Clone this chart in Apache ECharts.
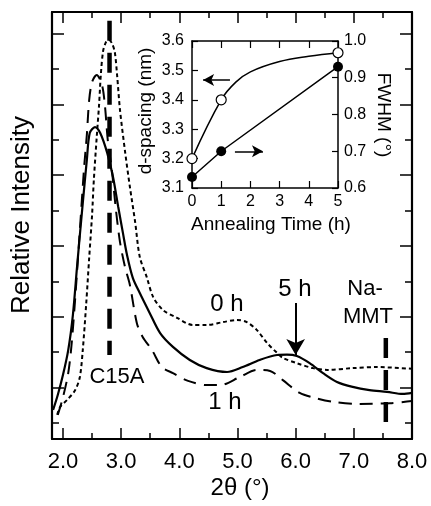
<!DOCTYPE html>
<html><head><meta charset="utf-8">
<script src="https://cdn.jsdelivr.net/npm/echarts@6/dist/echarts.min.js"></script>
<style>html,body{margin:0;padding:0;background:#fff}#c{width:431px;height:506px}</style>
</head><body><div id="c"></div>
<script>
// ---------- main XRD data (2θ in degrees, relative intensity in arbitrary units) ----------
const x0h = [1.90,1.95,2.07,2.21,2.29,2.34,2.40,2.45,2.50,2.53,2.58,2.62,2.65,2.69,2.74,2.79,2.84,2.89,2.93,2.98,3.07,3.15,3.24,3.32,3.44,3.55,3.72,3.96,4.23,4.47,4.75,4.99,5.16,5.33,5.51,5.68,5.78,6.02,6.30,6.54,6.98,7.40,8.0];
const y0h = [0.23,0.45,0.65,0.93,1.30,2.06,3.39,4.66,5.88,6.86,8.08,8.98,9.83,10.51,10.76,10.82,10.73,10.48,9.83,8.84,7.63,6.67,5.68,4.69,4.12,3.56,3.19,2.97,2.77,2.77,2.85,2.91,2.85,2.63,2.26,1.98,1.84,1.69,1.55,1.50,1.55,1.58,1.53];
const x1h = [1.91,2.0,2.09,2.15,2.22,2.29,2.36,2.41,2.45,2.50,2.58,2.67,2.72,2.77,2.84,2.91,2.98,3.07,3.15,3.27,3.37,3.53,3.70,3.89,4.15,4.47,4.70,5.04,5.33,5.56,5.78,6.07,6.33,6.67,7.10,7.62,8.0];
const y1h = [0.23,0.73,1.41,2.26,3.76,5.45,7.15,8.14,9.12,9.63,9.83,9.55,8.98,7.99,7.15,6.02,5.11,4.38,3.90,2.82,2.43,2.06,1.58,1.41,1.19,1.07,1.07,1.30,1.50,1.47,1.21,0.85,0.71,0.59,0.54,0.56,0.62];
const x5h = [1.83,1.91,2.0,2.09,2.17,2.24,2.29,2.34,2.41,2.46,2.55,2.64,2.76,2.86,2.95,3.03,3.10,3.20,3.32,3.49,3.67,3.89,4.18,4.47,4.82,5.09,5.38,5.68,5.85,6.02,6.24,6.47,6.71,6.98,7.27,7.57,7.84,8.0];
const y5h = [0.37,0.79,1.36,2.06,3.05,4.38,5.31,6.21,7.43,8.19,8.36,8.19,7.63,6.95,6.10,5.37,4.75,4.10,3.67,3.11,2.54,2.15,1.78,1.55,1.44,1.58,1.78,1.92,1.93,1.89,1.69,1.41,1.16,1.02,0.93,0.88,0.82,0.85];

// reference peak positions (thick dashed lines) and their vertical extents
const refNames = ['C15A', 'Na-MMT'];
const refX = [2.80, 7.55];
const refTop = [11.36, 2.40];
const refBottom = [1.92, -0.20];
// "5 h" arrow
const arrow5hX = 6.0;
const arrow5hY = [3.39, 1.92];

// main axis ticks
const xMajorTicks = [2, 3, 4, 5, 6, 7, 8];
const xMinorTicks = [2.5, 3.5, 4.5, 5.5, 6.5, 7.5];
const yMajorTicks = [1, 3, 5, 7, 9, 11];
const yMinorTicks = [0, 2, 4, 6, 8, 10];

// ---------- inset data ----------
const annealTime = [0, 1, 5];
const dSpacing = [3.20, 3.40, 3.56];
const fwhm = [0.63, 0.70, 0.93];
const dCurveX = [0, 1, 1.5, 2, 3, 4, 5];
const dCurveY = [3.20, 3.40, 3.46, 3.495, 3.53, 3.548, 3.56];
const arrowLeft = [[1.30, 3.467], [0.38, 3.467]];
const arrowRight = [[1.47, 0.70], [2.43, 0.70]];

const FONT = '"Liberation Sans", Arial, Helvetica, sans-serif';
const zip = (xs, ys) => xs.map((x, i) => [x, ys[i]]);

function axisBase(extra) {
  return Object.assign({
    type: 'value',
    splitLine: { show: false },
    axisLine: { show: false, onZero: false },
    axisLabel: { show: false },
    axisTick: { show: false }
  }, extra);
}
const mainLine = { show: true, onZero: false, lineStyle: { color: '#000', width: 2.2 } };
const insetLine = { show: true, onZero: false, lineStyle: { color: '#000', width: 1.5 } };

const X_MIN = 1.811, X_MAX = 8.0, Y_MIN = -0.452, Y_MAX = 11.61;

const xAxes = [
  axisBase({ gridIndex: 0, position: 'bottom', min: X_MIN, max: X_MAX, axisLine: mainLine,
    axisTick: { show: true, inside: true, length: 11, customValues: xMajorTicks, lineStyle: { color: '#000', width: 1.5 } },
    axisLabel: { show: true, customValues: xMajorTicks, formatter: v => Number(v).toFixed(1), fontSize: 22, fontFamily: FONT, color: '#000', margin: 12 } }),
  axisBase({ gridIndex: 0, position: 'bottom', min: X_MIN, max: X_MAX,
    axisTick: { show: true, inside: true, length: 6, customValues: xMinorTicks, lineStyle: { color: '#000', width: 1.5 } } }),
  axisBase({ gridIndex: 0, position: 'top', min: X_MIN, max: X_MAX, axisLine: mainLine,
    axisTick: { show: true, inside: true, length: 11, customValues: xMajorTicks, lineStyle: { color: '#000', width: 1.5 } } }),
  axisBase({ gridIndex: 0, position: 'top', min: X_MIN, max: X_MAX,
    axisTick: { show: true, inside: true, length: 6, customValues: xMinorTicks, lineStyle: { color: '#000', width: 1.5 } } }),
  axisBase({ gridIndex: 1, position: 'bottom', min: 0, max: 5, interval: 1, axisLine: insetLine,
    axisTick: { show: true, inside: true, length: 7, lineStyle: { color: '#000', width: 1.2 } },
    axisLabel: { show: true, fontSize: 16, fontFamily: FONT, color: '#000', margin: 6 } }),
  axisBase({ gridIndex: 1, position: 'top', min: 0, max: 5, interval: 1, axisLine: insetLine,
    axisTick: { show: true, inside: true, length: 7, lineStyle: { color: '#000', width: 1.2 } } })
];
const yAxes = [
  axisBase({ gridIndex: 0, position: 'left', min: Y_MIN, max: Y_MAX, axisLine: mainLine,
    axisTick: { show: true, inside: true, length: 12, customValues: yMajorTicks, lineStyle: { color: '#000', width: 1.5 } } }),
  axisBase({ gridIndex: 0, position: 'left', min: Y_MIN, max: Y_MAX,
    axisTick: { show: true, inside: true, length: 7, customValues: yMinorTicks, lineStyle: { color: '#000', width: 1.5 } } }),
  axisBase({ gridIndex: 0, position: 'right', min: Y_MIN, max: Y_MAX, axisLine: mainLine,
    axisTick: { show: true, inside: true, length: 12, customValues: yMajorTicks, lineStyle: { color: '#000', width: 1.5 } } }),
  axisBase({ gridIndex: 0, position: 'right', min: Y_MIN, max: Y_MAX,
    axisTick: { show: true, inside: true, length: 7, customValues: yMinorTicks, lineStyle: { color: '#000', width: 1.5 } } }),
  axisBase({ gridIndex: 1, position: 'left', min: 3.1, max: 3.6, interval: 0.1, axisLine: insetLine,
    axisTick: { show: true, inside: true, length: 6, lineStyle: { color: '#000', width: 1.2 } },
    axisLabel: { show: true, formatter: v => Number(v).toFixed(1), fontSize: 16, fontFamily: FONT, color: '#000', margin: 8 } }),
  axisBase({ gridIndex: 1, position: 'right', min: 0.6, max: 1.0, interval: 0.1, axisLine: insetLine,
    axisTick: { show: true, inside: true, length: 6, lineStyle: { color: '#000', width: 1.2 } },
    axisLabel: { show: true, formatter: v => Number(v).toFixed(1), fontSize: 16, fontFamily: FONT, color: '#000', margin: 6 } })
];

const noEmph = { disabled: true };
const series = [
  { name: '0 h', type: 'line', xAxisIndex: 0, yAxisIndex: 0, data: zip(x0h, y0h), smooth: 0.3, showSymbol: false, symbol: 'none',
    lineStyle: { color: '#000', width: 2, type: [4, 3] }, emphasis: noEmph, z: 3 },
  { name: '1 h', type: 'line', xAxisIndex: 0, yAxisIndex: 0, data: zip(x1h, y1h), smooth: 0.3, showSymbol: false, symbol: 'none',
    lineStyle: { color: '#000', width: 2, type: [13, 8] }, emphasis: noEmph, z: 3 },
  { name: '5 h', type: 'line', xAxisIndex: 0, yAxisIndex: 0, data: zip(x5h, y5h), smooth: 0.3, showSymbol: false, symbol: 'none',
    lineStyle: { color: '#000', width: 2.2 }, emphasis: noEmph, z: 3,
    markLine: { silent: true, symbol: ['none', 'arrow'], symbolSize: [14, 16], animation: false,
      lineStyle: { color: '#000', width: 2, type: 'solid' }, label: { show: false }, emphasis: noEmph,
      data: [[{ coord: [arrow5hX, arrow5hY[0]] }, { coord: [arrow5hX, arrow5hY[1]] }]] } }
];
refX.forEach((x, i) => {
  series.push({ name: refNames[i], type: 'line', xAxisIndex: 0, yAxisIndex: 0,
    data: [[x, refTop[i]], [x, refBottom[i]]], showSymbol: false, symbol: 'none',
    lineStyle: { color: '#000', width: 4.5, type: [20, 12] }, emphasis: noEmph, z: 4 });
});
series.push(
  { name: 'd-spacing curve', type: 'line', xAxisIndex: 4, yAxisIndex: 4, data: zip(dCurveX, dCurveY), smooth: 0.4,
    showSymbol: false, symbol: 'none', lineStyle: { color: '#000', width: 1.5 }, emphasis: noEmph, z: 3,
    markLine: { silent: true, symbol: ['none', 'arrow'], symbolSize: [9, 11], animation: false,
      lineStyle: { color: '#000', width: 1.5, type: 'solid' }, label: { show: false }, emphasis: noEmph,
      data: [[{ coord: arrowLeft[0] }, { coord: arrowLeft[1] }]] } },
  { name: 'FWHM', type: 'line', xAxisIndex: 4, yAxisIndex: 5, data: zip(annealTime, fwhm),
    symbol: 'circle', symbolSize: 10, showSymbol: true, itemStyle: { color: '#000', opacity: 1 },
    lineStyle: { color: '#000', width: 1.5 }, emphasis: noEmph, z: 4,
    markLine: { silent: true, symbol: ['none', 'arrow'], symbolSize: [9, 11], animation: false,
      lineStyle: { color: '#000', width: 1.5, type: 'solid' }, label: { show: false }, emphasis: noEmph,
      data: [[{ coord: arrowRight[0] }, { coord: arrowRight[1] }]] } },
  { name: 'd-spacing', type: 'scatter', xAxisIndex: 4, yAxisIndex: 4, data: zip(annealTime, dSpacing),
    symbol: 'circle', symbolSize: 10, itemStyle: { color: '#ffffff', borderColor: '#000', borderWidth: 1.2, opacity: 1 },
    emphasis: noEmph, z: 5 }
);

function txt(text, x, y, size, rot) {
  return { type: 'text', x: x, y: y, rotation: rot || 0, silent: true, z: 10,
    style: { text: text, fill: '#000', font: size + 'px ' + FONT, align: 'center', verticalAlign: 'middle',
      textAlign: 'center', textVerticalAlign: 'middle' } };
}
const graphics = [
  txt('Relative Intensity', 22, 215, 26, Math.PI / 2),
  txt('2θ (°)', 240, 488, 24),
  txt('C15A', 117, 377, 22),
  txt('0 h', 227, 304, 24),
  txt('5 h', 295, 289, 24),
  txt('Na-', 365, 289, 22),
  txt('MMT', 368, 317, 22),
  txt('1 h', 225, 402, 24),
  txt('d-spacing (nm)', 146, 111, 19, Math.PI / 2),
  txt('FWHM (°)', 383, 115, 19, -Math.PI / 2),
  txt('Annealing Time (h)', 271, 225, 19)
];

const chart = echarts.init(document.getElementById('c'), null, { renderer: 'canvas' });
chart.setOption({
  animation: false,
  backgroundColor: '#fff',
  grid: [
    { left: 52, top: 12, right: 19, bottom: 67, containLabel: false },
    { left: 192, top: 41, right: 93, bottom: 318, containLabel: false }
  ],
  xAxis: xAxes,
  yAxis: yAxes,
  series: series,
  graphic: graphics
});
</script>
</body></html>
